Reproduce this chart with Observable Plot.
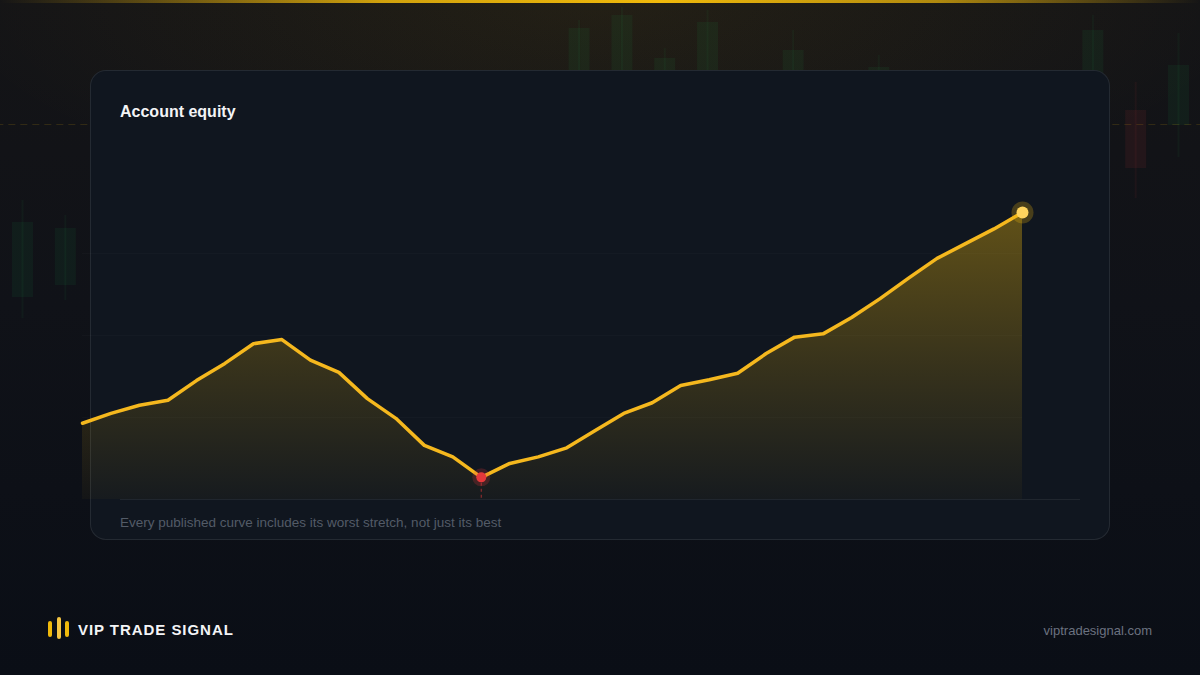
<!DOCTYPE html>
<html>
<head>
<meta charset="utf-8">
<script src="https://cdn.jsdelivr.net/npm/d3@7"></script>
<script src="https://cdn.jsdelivr.net/npm/@observablehq/plot@0.6"></script>
<style>
html,body{margin:0;padding:0;}
body{width:1200px;height:675px;overflow:hidden;position:relative;font-family:"Liberation Sans",Arial,Helvetica,sans-serif;background:#0b0f16;}
#bg{position:absolute;left:0;top:0;width:1200px;height:675px;
  background:radial-gradient(ellipse 55% 32% at 50% 0%, rgba(240,185,11,0.07), rgba(240,185,11,0) 100%),
             linear-gradient(180deg,#141416 0%,#101218 45%,#0a0e16 100%);}
#bgplot{position:absolute;left:0;top:0;}
#topline{position:absolute;left:0;top:0;width:1200px;height:3px;
  background:linear-gradient(90deg, rgba(240,185,11,0) 0%, rgba(240,185,11,0.85) 32%, #f0b90b 55%, rgba(240,185,11,0.7) 78%, rgba(240,185,11,0) 100%);}
#card{position:absolute;left:90px;top:70px;width:1018px;height:468px;border:1px solid rgba(255,255,255,0.085);border-radius:16px;background:#10161f;}
#baseline{position:absolute;left:120px;top:499px;width:960px;height:1px;background:rgba(255,255,255,0.07);}
#title{position:absolute;left:120px;top:103px;font-size:16px;font-weight:bold;color:#f3f4f6;line-height:18px;}
#caption{position:absolute;left:120px;top:515px;font-size:13.5px;color:#535b67;line-height:16px;}
#chart{position:absolute;left:0;top:0;}
#brand{position:absolute;left:78px;top:621px;font-size:15px;font-weight:bold;color:#f3f4f6;letter-spacing:0.95px;line-height:18px;}
#url{position:absolute;right:48px;top:623px;font-size:13px;color:#6b7280;line-height:16px;}
.bar{position:absolute;width:4px;border-radius:2px;background:#f0b90b;}
</style>
</head>
<body>
<div id="bg"></div>
<div id="bgplot"></div>
<div id="topline"></div>
<div id="card"></div>
<div id="baseline"></div>
<div id="title">Account equity</div>
<div id="caption">Every published curve includes its worst stretch, not just its best</div>
<div id="chart"></div>
<div class="bar" style="left:48px;top:621px;height:16px;"></div>
<div class="bar" style="left:57px;top:617px;height:22px;background:#f5c542;"></div>
<div class="bar" style="left:65px;top:621px;height:16px;"></div>
<div id="brand">VIP TRADE SIGNAL</div>
<div id="url">viptradesignal.com</div>
<script>
// ---- Equity curve data (index-scaled units) ----
const periods = [0,1,2,3,4,5,6,7,8,9,10,11,12,13,14,15,16,17,18,19,20,21,22,23,24,25,26,27,28,29,30,31,32,33];
const equity = [99.3,100.5,101.5,102.1,104.5,106.6,109.0,109.5,107.0,105.5,102.3,99.9,96.6,95.2,92.7,94.4,95.2,96.3,98.4,100.5,101.8,103.9,104.6,105.4,107.8,109.8,110.2,112.2,114.5,117.0,119.4,121.2,123.0,125.0];
const yDomain = [90, 130];
const gridValues = [100, 110, 120];

// ---- Decorative background candles ----
const candleIdx   = [0,1,13,14,15,16,18,20,25,26,27];
const candleOpen  = [378,390,590,590,595,590,590,590,590,565,550];
const candleClose = [453,447,647,660,617,653,625,608,645,507,610];
const candleHigh  = [475,460,655,668,627,665,645,620,660,593,642];
const candleLow   = [357,375,570,570,585,575,575,580,570,477,518];
const priceLine   = [551];

const candles = candleIdx.map((i,k)=>({i, open:candleOpen[k], close:candleClose[k], high:candleHigh[k], low:candleLow[k]}));
const up = candles.filter(d=>d.close>=d.open), down = candles.filter(d=>d.close<d.open);

const bg = Plot.plot({
  width:1200, height:675, marginLeft:22, marginRight:22, marginTop:0, marginBottom:0,
  x:{domain:[0,27], axis:null}, y:{domain:[0,675], axis:null},
  style:{background:"transparent", overflow:"visible"},
  marks:[
    Plot.ruleY(priceLine, {x1:-0.6, x2:27.6, stroke:"#f0b90b", strokeOpacity:0.14, strokeDasharray:"7,5"}),
    Plot.ruleX(up, {x:"i", y1:"low", y2:"high", stroke:"#22c55e", strokeOpacity:0.05, strokeWidth:2}),
    Plot.ruleX(up, {x:"i", y1:"open", y2:"close", stroke:"#22c55e", strokeOpacity:0.065, strokeWidth:21}),
    Plot.ruleX(down, {x:"i", y1:"low", y2:"high", stroke:"#ef4444", strokeOpacity:0.06, strokeWidth:2}),
    Plot.ruleX(down, {x:"i", y1:"open", y2:"close", stroke:"#ef4444", strokeOpacity:0.08, strokeWidth:21})
  ]
});
document.getElementById("bgplot").append(bg);

// ---- Main chart ----
const data = periods.map((p,k)=>({p, v:equity[k]}));
const lo = data[d3.minIndex(equity)], hi = data[d3.maxIndex(equity)];

const chart = Plot.plot({
  width:1200, height:675, marginLeft:82, marginRight:178, marginTop:171, marginBottom:176,
  x:{domain:d3.extent(periods), axis:null},
  y:{domain:yDomain, axis:null},
  style:{background:"transparent", overflow:"visible"},
  marks:[
    Plot.ruleY(gridValues, {stroke:"#ffffff", strokeOpacity:0.02}),
    Plot.areaY(data, {x:"p", y1:yDomain[0], y2:"v", fill:"url(#eqfill)"}),
    Plot.ruleX([lo], {x:"p", y1:"v", y2:yDomain[0], stroke:"#e5383b", strokeOpacity:0.55, strokeWidth:1.2, strokeDasharray:"3,3"}),
    Plot.line(data, {x:"p", y:"v", stroke:"#f5b81e", strokeWidth:3.5, strokeLinejoin:"round", strokeLinecap:"round"}),
    Plot.dot([lo], {x:"p", y:"v", r:9, fill:"#e5383b", fillOpacity:0.22}),
    Plot.dot([lo], {x:"p", y:"v", r:5, fill:"#e5383b"}),
    Plot.dot([hi], {x:"p", y:"v", r:11, fill:"#f0b90b", fillOpacity:0.25}),
    Plot.dot([hi], {x:"p", y:"v", r:6, fill:"#ffd45e"})
  ]
});
const ys = chart.scale("y");
const ns = "http://www.w3.org/2000/svg";
const defs = document.createElementNS(ns,"defs");
const grad = document.createElementNS(ns,"linearGradient");
grad.setAttribute("id","eqfill");
grad.setAttribute("gradientUnits","userSpaceOnUse");
grad.setAttribute("x1","0"); grad.setAttribute("x2","0");
grad.setAttribute("y1", ys.apply(d3.max(equity)));
grad.setAttribute("y2", ys.apply(yDomain[0]));
[["0","#f0b90b","0.36"],["0.55","#f0b90b","0.17"],["1","#f0b90b","0.03"]].forEach(([o,c,a])=>{
  const s=document.createElementNS(ns,"stop");
  s.setAttribute("offset",o); s.setAttribute("stop-color",c); s.setAttribute("stop-opacity",a);
  grad.append(s);
});
defs.append(grad);
chart.insertBefore(defs, chart.firstChild);
document.getElementById("chart").append(chart);
</script>
</body>
</html>
